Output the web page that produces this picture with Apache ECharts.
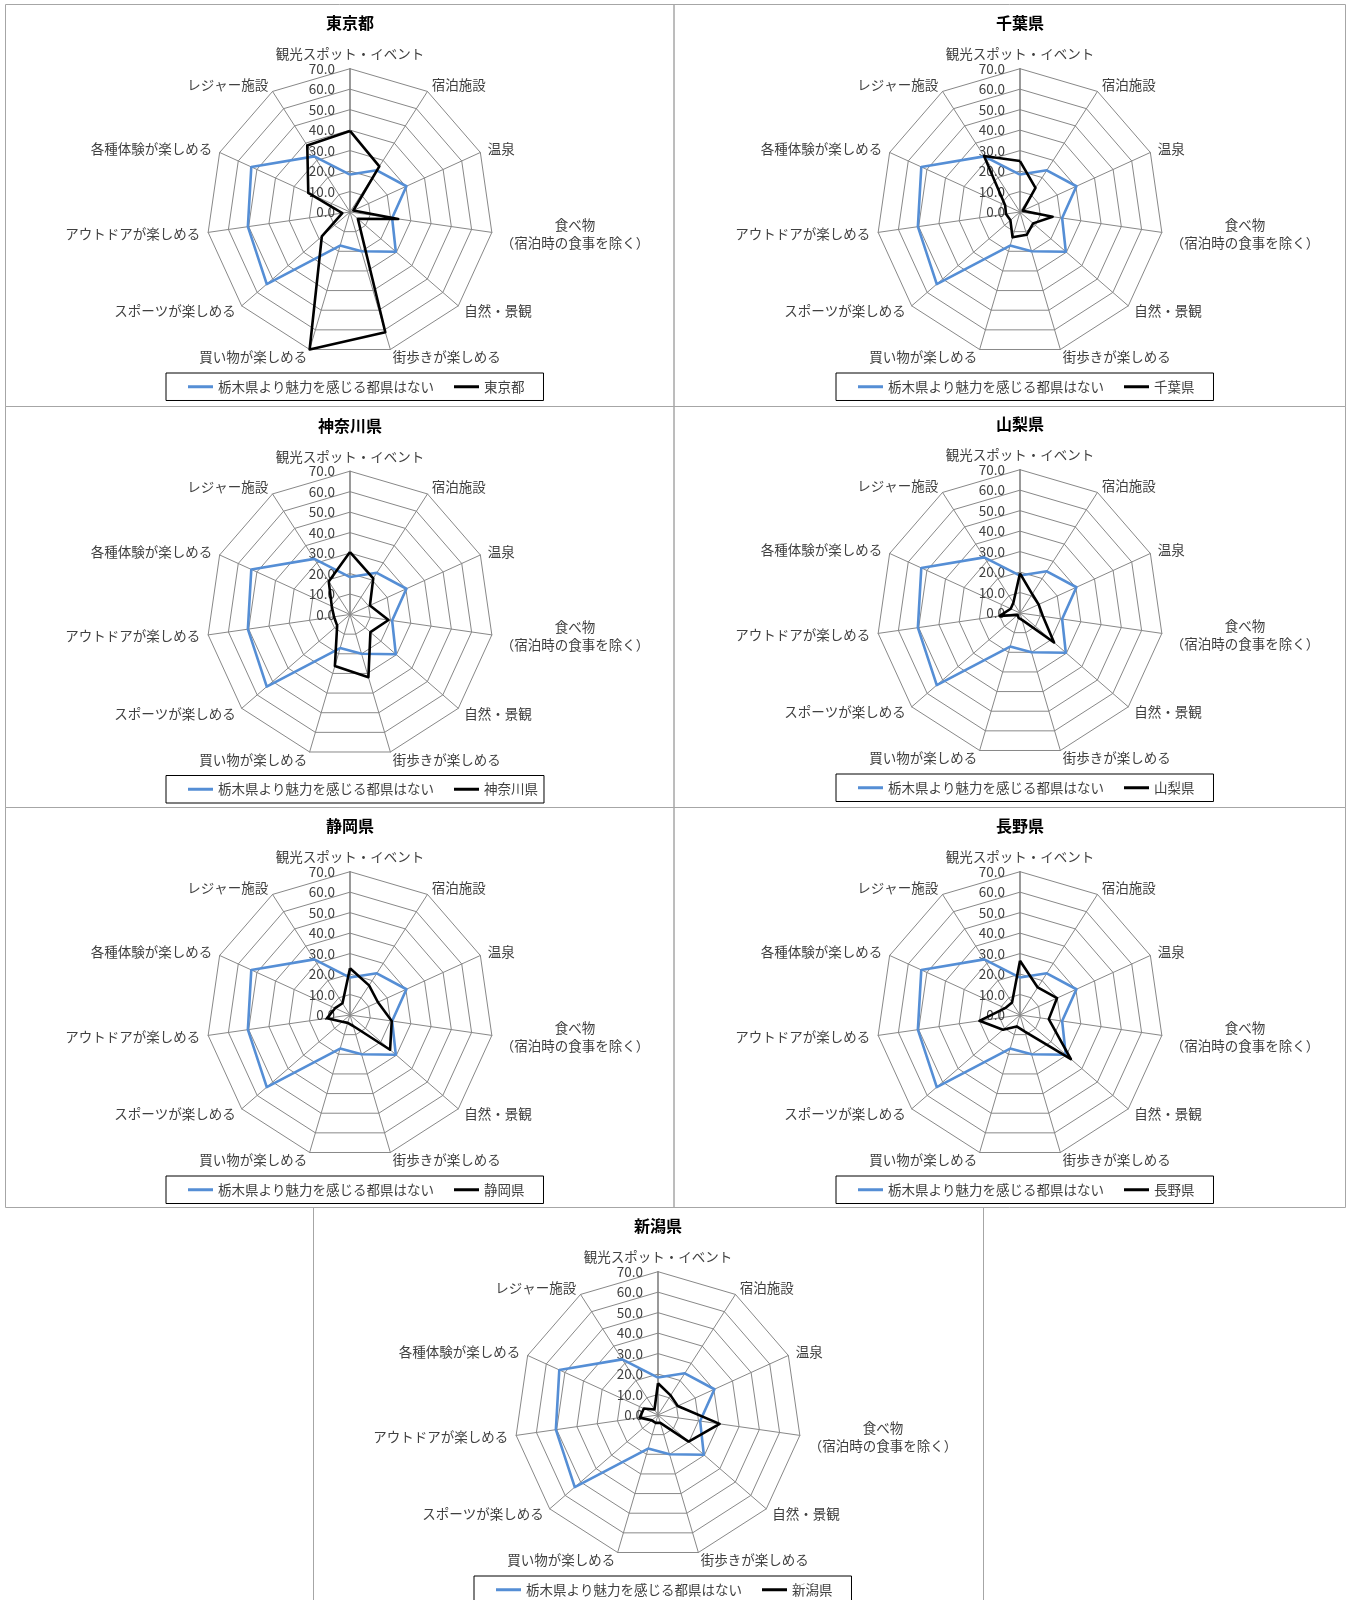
<!DOCTYPE html>
<html>
<head>
<meta charset="utf-8">
<script src="https://cdn.jsdelivr.net/npm/echarts@6/dist/echarts.min.js"></script>
<style>
  html, body { margin: 0; padding: 0; background: #ffffff; }
  #chart { width: 1350px; height: 1600px; }
</style>
</head>
<body>
<div id="chart"></div>
<script>
// Axes of every radar, listed clockwise from the top
const categories = [
  '観光スポット・イベント',
  '宿泊施設',
  '温泉',
  '食べ物\n（宿泊時の食事を除く）',
  '自然・景観',
  '街歩きが楽しめる',
  '買い物が楽しめる',
  'スポーツが楽しめる',
  'アウトドアが楽しめる',
  '各種体験が楽しめる',
  'レジャー施設'
];

// Radial scale ticks (%)
const ticks = [0, 10, 20, 30, 40, 50, 60, 70];

// Respondents who find no prefecture more attractive than Tochigi (%)
const baseName = '栃木県より魅力を感じる都県はない';
const baseValues = [18.3, 24.2, 30.3, 20.8, 29.6, 20.0, 17.1, 53.8, 50.4, 53.0, 32.3];

// Prefectures compared, one radar each
const prefectures = ['東京都', '千葉県', '神奈川県', '山梨県', '静岡県', '長野県', '新潟県'];
const tokyo     = [39.6, 26.5, 1.8, 23.8, 5.1, 61.2, 70.0, 18.2, 3.8, 22.4, 38.6];
const chiba     = [24.9, 14.0, 1.5, 16.1, 8.5, 11.6, 12.9, 6.2, 6.9, 8.0, 32.5];
const kanagawa  = [30.5, 21.0, 10.7, 19.0, 13.2, 31.9, 26.2, 8.3, 7.9, 9.8, 19.2];
const yamanashi = [19.4, 11.0, 10.0, 11.3, 22.0, 3.5, 2.5, 1.5, 10.0, 5.0, 6.0];
const shizuoka  = [22.8, 17.2, 15.0, 20.6, 25.9, 5.6, 4.0, 5.0, 11.4, 8.0, 6.8];
const nagano    = [26.5, 16.0, 19.9, 14.2, 32.9, 8.5, 5.8, 11.0, 20.0, 8.0, 7.2];
const niigata   = [15.5, 11.4, 10.6, 30.4, 19.8, 4.0, 4.0, 4.0, 9.0, 7.6, 3.2];
const prefValues = [tokyo, chiba, kanagawa, yamanashi, shizuoka, nagano, niigata];

// ---- layout ----
const FONT = '"Noto Sans CJK JP", "Noto Sans", sans-serif';
const RADIUS = 143.3;
const centers = [
  [350, 212], [1020, 212],
  [350, 614.5], [1020, 613],
  [350, 1015], [1020, 1015],
  [658, 1415]
];
const frames = [
  [5, 4, 673.5, 406], [673.5, 4, 1345, 406],
  [5, 406, 673.5, 807], [673.5, 406, 1345, 807],
  [5, 807, 673.5, 1207], [673.5, 807, 1345, 1207],
  [313, 1207, 983, 1610]
];
const BLUE = '#558ed5';
const BLACK = '#000000';
const GRID = '#888888';
const NAME_SIZE = 13.5;

// ECharts lays indicators out counter-clockwise; feed them reversed so they read clockwise
const n = categories.length;
const order = categories.map((_, i) => (n - i) % n);
const reorder = arr => order.map(i => arr[i]);

const axisMax = ticks[ticks.length - 1];

const radar = centers.map(c => ({
  center: c,
  radius: RADIUS,
  startAngle: 90,
  shape: 'polygon',
  splitNumber: ticks.length - 1,
  nameGap: 8,
  axisName: {
    color: '#404040',
    fontSize: NAME_SIZE,
    fontFamily: FONT,
    formatter: v => v.indexOf('\n') >= 0
      ? v.split('\n').map(s => '{c|' + s + '}').join('\n')
      : v,
    rich: { c: { align: 'center', fontSize: NAME_SIZE, lineHeight: 18, color: '#404040', fontFamily: FONT } }
  },
  splitLine: { lineStyle: { color: GRID, width: 1 } },
  splitArea: { show: false },
  axisLine: { lineStyle: { color: GRID, width: 1 } },
  axisTick: { show: false },
  axisLabel: { show: false },
  indicator: order.map((i, k) => {
    const ind = { name: categories[i], min: ticks[0], max: axisMax };
    if (categories[i].indexOf('\n') >= 0) ind.nameGap = 9;
    if (k === 0) {
      ind.axisLabel = {
        show: true,
        showMinLabel: true,
        showMaxLabel: true,
        align: 'right',
        margin: 15,
        color: '#404040',
        fontSize: 13.5,
        fontFamily: FONT,
        formatter: v => Number(v).toFixed(1)
      };
      ind.axisLine = { lineStyle: { color: '#808080', width: 1.6 } };
    }
    return ind;
  })
}));

const series = prefectures.map((p, k) => ({
  type: 'radar',
  radarIndex: k,
  symbol: 'none',
  silent: true,
  data: [
    {
      name: baseName,
      value: reorder(baseValues),
      itemStyle: { color: BLUE },
      lineStyle: { color: BLUE, width: 2.6 }
    },
    {
      name: p,
      value: reorder(prefValues[k]),
      itemStyle: { color: BLACK },
      lineStyle: { color: BLACK, width: 2.6 }
    }
  ]
}));

const title = prefectures.map((p, k) => ({
  text: p,
  left: centers[k][0],
  top: centers[k][1] - 197,
  textAlign: 'center',
  textVerticalAlign: 'top',
  padding: 0,
  textStyle: { fontSize: 16, fontWeight: 'bold', color: '#000', fontFamily: FONT }
}));

const legend = prefectures.map((p, k) => ({
  left: centers[k][0] - 184,
  top: centers[k][1] + 161,
  orient: 'horizontal',
  data: [baseName, p],
  icon: 'rect',
  itemWidth: 25,
  itemHeight: 3,
  itemGap: 20,
  padding: [7, Math.max(4, 19 - (p.length - 3) * 13), 7, 22],
  borderColor: '#000',
  borderWidth: 1,
  selectedMode: false,
  textStyle: { fontSize: 13.5, color: '#404040', fontFamily: FONT }
}));

const graphic = frames.map(f => ({
  type: 'rect',
  silent: true,
  z: -10,
  shape: { x: f[0] + 0.5, y: f[1] + 0.5, width: f[2] - f[0], height: f[3] - f[1] },
  style: { fill: 'none', stroke: '#a6a6a6', lineWidth: 1 }
}));

const chart = echarts.init(document.getElementById('chart'), null, { renderer: 'canvas' });
chart.setOption({
  backgroundColor: '#ffffff',
  animation: false,
  textStyle: { fontFamily: FONT },
  title,
  legend,
  radar,
  series,
  graphic
});
</script>
</body>
</html>
